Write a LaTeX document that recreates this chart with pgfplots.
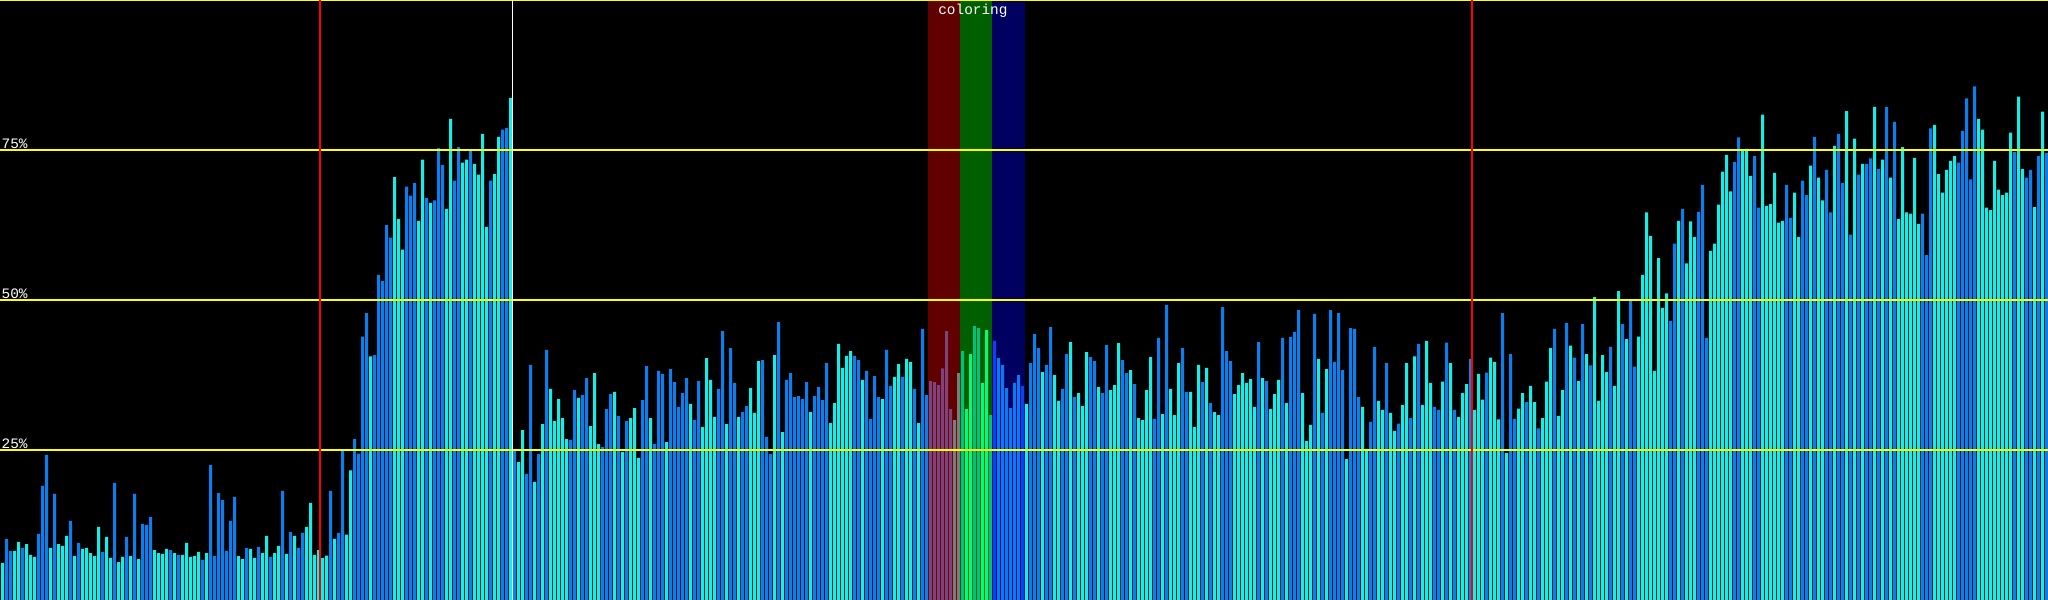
\documentclass[border=0pt]{standalone}
\usepackage{fontspec}
\usepackage{pgfplots}
\usepackage{pgfplotstable}
\pgfplotsset{compat=1.18}
\newfontfamily\pixfont{Liberation Mono}

\definecolor{barB}{RGB}{8,128,240}
\definecolor{barC}{RGB}{16,240,232}
\definecolor{redB}{RGB}{128,66,122}
\definecolor{redC}{RGB}{128,122,120}
\definecolor{grnB}{RGB}{6,192,122}
\definecolor{grnC}{RGB}{8,248,122}
\definecolor{bluB}{RGB}{6,66,248}
\definecolor{bluC}{RGB}{8,122,248}
\definecolor{bandR}{RGB}{96,0,0}
\definecolor{bandG}{RGB}{0,96,0}
\definecolor{bandB}{RGB}{0,0,96}
\definecolor{gridY}{RGB}{255,255,0}

\pgfplotsset{
  bars/.style 2 args={ybar, bar width=0.75, bar shift=0pt, draw=none, fill=#1,
    y filter/.expression={\thisrow{k}==#2 ? y : nan}}
}

% i = bar index, y = percent, k = colour class
% 0 blue, 1 cyan, 2/3 under red band, 4/5 under green band, 6/7 under blue band
\pgfplotstableread[row sep=\\]{
i y k\\
0 6.2 1\\ 1 10.2 0\\ 2 8.2 0\\ 3 8.2 1\\ 4 9.7 1\\ 5 8.7 0\\ 6 9.3 1\\ 7 7.5 1\\
8 7.2 1\\ 9 11.0 0\\ 10 19.0 0\\ 11 24.2 0\\ 12 8.7 1\\ 13 17.7 0\\ 14 9.3 1\\ 15 9.0 1\\
16 10.7 1\\ 17 13.2 0\\ 18 7.3 1\\ 19 9.5 0\\ 20 8.5 1\\ 21 8.7 1\\ 22 7.8 1\\ 23 7.3 1\\
24 12.2 1\\ 25 8.0 0\\ 26 10.5 1\\ 27 7.0 1\\ 28 19.5 0\\ 29 6.3 1\\ 30 7.2 1\\ 31 10.5 0\\
32 7.3 1\\ 33 17.7 0\\ 34 6.8 1\\ 35 12.7 0\\ 36 12.5 0\\ 37 13.8 0\\ 38 8.3 1\\ 39 7.8 1\\
40 7.7 1\\ 41 8.5 1\\ 42 8.3 0\\ 43 7.8 1\\ 44 7.5 0\\ 45 7.5 1\\ 46 9.5 1\\ 47 7.2 1\\
48 7.3 1\\ 49 8.0 1\\ 50 6.7 0\\ 51 7.8 1\\ 52 22.5 0\\ 53 7.3 0\\ 54 17.8 0\\ 55 16.7 0\\
56 8.2 0\\ 57 13.2 0\\ 58 17.2 0\\ 59 7.3 1\\ 60 6.8 1\\ 61 8.7 0\\ 62 8.5 1\\ 63 7.0 1\\
64 8.8 0\\ 65 7.8 1\\ 66 10.7 1\\ 67 7.2 0\\ 68 7.8 1\\ 69 9.0 1\\ 70 18.2 0\\ 71 7.7 1\\
72 11.3 0\\ 73 10.7 1\\ 74 8.7 0\\ 75 11.2 0\\ 76 12.2 1\\ 77 16.2 1\\ 78 7.5 1\\ 79 8.3 1\\
80 7.0 1\\ 81 7.4 1\\ 82 18.2 0\\ 83 10.2 1\\ 84 11.2 0\\ 85 24.9 0\\ 86 10.9 1\\ 87 21.6 1\\
88 26.8 0\\ 89 24.4 0\\ 90 43.9 0\\ 91 47.8 0\\ 92 40.6 1\\ 93 40.8 0\\ 94 54.2 0\\ 95 53.2 0\\
96 62.5 0\\ 97 60.4 0\\ 98 70.5 1\\ 99 63.5 1\\ 100 58.4 1\\ 101 68.9 0\\ 102 67.4 0\\ 103 69.5 0\\
104 63.2 1\\ 105 73.4 1\\ 106 67.0 0\\ 107 66.2 1\\ 108 66.6 0\\ 109 75.3 0\\ 110 72.5 0\\ 111 65.2 1\\
112 80.2 1\\ 113 69.9 0\\ 114 75.5 0\\ 115 72.9 1\\ 116 73.4 1\\ 117 74.9 0\\ 118 72.7 1\\ 119 70.9 1\\
120 77.7 1\\ 121 62.2 1\\ 122 69.9 0\\ 123 71.0 1\\ 124 77.2 1\\ 125 78.4 0\\ 126 78.7 0\\ 127 83.7 1\\
128 24.8 0\\ 129 23.0 1\\ 130 28.3 1\\ 131 21.0 0\\ 132 39.2 0\\ 133 19.7 1\\ 134 24.3 0\\ 135 29.3 1\\
136 41.7 0\\ 137 35.2 1\\ 138 29.8 1\\ 139 33.5 1\\ 140 30.3 1\\ 141 26.8 1\\ 142 26.7 0\\ 143 35.0 0\\
144 33.7 1\\ 145 34.2 0\\ 146 37.0 0\\ 147 29.0 1\\ 148 37.8 1\\ 149 26.0 1\\ 150 25.5 0\\ 151 31.8 0\\
152 34.3 0\\ 153 34.7 1\\ 154 30.7 0\\ 155 24.7 1\\ 156 29.8 0\\ 157 30.3 1\\ 158 32.0 1\\ 159 23.7 1\\
160 33.3 0\\ 161 39.0 0\\ 162 30.3 1\\ 163 26.0 0\\ 164 38.2 0\\ 165 37.7 0\\ 166 26.3 1\\ 167 38.5 0\\
168 36.3 0\\ 169 32.2 0\\ 170 34.5 0\\ 171 37.0 0\\ 172 32.7 1\\ 173 30.0 0\\ 174 36.5 0\\ 175 28.8 1\\
176 40.3 1\\ 177 36.7 1\\ 178 30.5 1\\ 179 35.2 0\\ 180 44.8 0\\ 181 29.3 1\\ 182 42.0 0\\ 183 36.2 0\\
184 30.5 1\\ 185 31.3 0\\ 186 32.3 0\\ 187 35.3 1\\ 188 31.2 1\\ 189 39.8 1\\ 190 40.0 0\\ 191 27.2 0\\
192 24.3 0\\ 193 40.8 1\\ 194 46.3 0\\ 195 28.0 1\\ 196 36.7 0\\ 197 37.8 0\\ 198 33.8 0\\ 199 34.0 0\\
200 33.5 0\\ 201 36.3 0\\ 202 31.3 1\\ 203 34.0 0\\ 204 35.5 0\\ 205 33.3 0\\ 206 39.5 0\\ 207 29.5 1\\
208 32.8 1\\ 209 42.7 1\\ 210 38.7 1\\ 211 40.7 1\\ 212 41.5 1\\ 213 40.7 0\\ 214 40.0 0\\ 215 36.7 1\\
216 38.2 0\\ 217 30.2 0\\ 218 37.3 0\\ 219 33.8 0\\ 220 33.5 1\\ 221 41.7 0\\ 222 35.7 0\\ 223 37.2 1\\
224 39.3 1\\ 225 37.2 0\\ 226 40.2 1\\ 227 39.7 1\\ 228 35.2 0\\ 229 29.5 1\\ 230 45.2 0\\ 231 34.2 0\\
232 36.5 2\\ 233 36.3 2\\ 234 35.8 2\\ 235 38.6 2\\ 236 44.8 2\\ 237 31.8 2\\ 238 30.0 3\\ 239 37.8 3\\
240 41.5 4\\ 241 31.8 5\\ 242 41.0 5\\ 243 45.7 4\\ 244 45.3 4\\ 245 36.2 5\\ 246 45.0 5\\ 247 30.8 4\\
248 43.2 6\\ 249 40.3 7\\ 250 39.2 7\\ 251 35.3 7\\ 252 32.0 7\\ 253 36.2 7\\ 254 37.5 7\\ 255 35.7 6\\
256 32.7 1\\ 257 39.5 0\\ 258 44.3 0\\ 259 42.0 0\\ 260 38.0 1\\ 261 39.2 0\\ 262 45.5 0\\ 263 37.5 1\\
264 33.2 1\\ 265 35.2 0\\ 266 41.0 0\\ 267 43.0 1\\ 268 33.8 0\\ 269 34.5 1\\ 270 32.3 1\\ 271 41.3 1\\
272 40.5 0\\ 273 39.8 0\\ 274 35.5 1\\ 275 34.5 0\\ 276 42.5 0\\ 277 35.0 1\\ 278 35.8 1\\ 279 42.8 1\\
280 40.0 0\\ 281 37.8 0\\ 282 38.3 1\\ 283 36.0 0\\ 284 30.3 1\\ 285 30.0 1\\ 286 35.0 1\\ 287 40.5 1\\
288 30.2 0\\ 289 43.7 0\\ 290 31.0 1\\ 291 49.2 0\\ 292 35.2 1\\ 293 30.8 1\\ 294 39.5 1\\ 295 42.0 0\\
296 34.7 0\\ 297 34.7 1\\ 298 28.8 1\\ 299 39.2 1\\ 300 36.3 0\\ 301 38.7 1\\ 302 32.8 0\\ 303 31.3 1\\
304 30.8 1\\ 305 48.8 0\\ 306 41.5 0\\ 307 39.8 0\\ 308 34.3 1\\ 309 35.8 1\\ 310 37.8 1\\ 311 36.2 1\\
312 36.8 1\\ 313 32.2 1\\ 314 43.0 0\\ 315 37.0 1\\ 316 36.5 0\\ 317 31.8 1\\ 318 34.3 1\\ 319 36.7 1\\
320 43.7 0\\ 321 32.8 1\\ 322 43.8 0\\ 323 44.7 0\\ 324 48.3 0\\ 325 34.5 1\\ 326 26.5 1\\ 327 29.2 1\\
328 47.7 0\\ 329 40.2 1\\ 330 31.2 0\\ 331 38.5 1\\ 332 48.3 0\\ 333 39.7 0\\ 334 47.8 0\\ 335 38.3 0\\
336 23.5 1\\ 337 45.3 0\\ 338 45.2 0\\ 339 33.8 0\\ 340 32.2 1\\ 341 25.2 1\\ 342 29.7 0\\ 343 42.2 0\\
344 33.2 1\\ 345 31.7 1\\ 346 39.5 0\\ 347 31.2 1\\ 348 28.2 1\\ 349 29.4 0\\ 350 32.5 1\\ 351 39.5 1\\
352 30.3 0\\ 353 40.6 1\\ 354 42.7 0\\ 355 32.5 1\\ 356 43.2 1\\ 357 36.2 1\\ 358 32.2 0\\ 359 31.7 0\\
360 36.4 1\\ 361 42.9 0\\ 362 39.5 1\\ 363 31.7 0\\ 364 30.5 1\\ 365 34.5 1\\ 366 36.0 1\\ 367 40.2 0\\
368 31.7 1\\ 369 37.7 1\\ 370 33.4 1\\ 371 37.9 0\\ 372 40.4 1\\ 373 39.7 1\\ 374 30.1 1\\ 375 47.8 0\\
376 24.5 1\\ 377 41.0 0\\ 378 30.2 0\\ 379 31.9 1\\ 380 34.5 1\\ 381 33.0 0\\ 382 35.7 1\\ 383 33.0 1\\
384 28.6 0\\ 385 30.3 1\\ 386 36.4 1\\ 387 42.0 1\\ 388 45.2 0\\ 389 30.7 1\\ 390 35.0 1\\ 391 46.2 0\\
392 42.4 1\\ 393 40.4 0\\ 394 36.5 1\\ 395 46.0 0\\ 396 41.0 1\\ 397 39.1 0\\ 398 50.5 1\\ 399 33.2 1\\
400 40.8 1\\ 401 38.0 1\\ 402 42.2 0\\ 403 35.7 1\\ 404 51.5 1\\ 405 46.0 0\\ 406 43.5 1\\ 407 49.9 0\\
408 38.9 0\\ 409 43.9 1\\ 410 54.2 1\\ 411 64.6 1\\ 412 60.7 1\\ 413 38.2 1\\ 414 57.0 1\\ 415 48.7 1\\
416 51.1 1\\ 417 46.5 0\\ 418 59.4 0\\ 419 63.2 1\\ 420 65.2 0\\ 421 56.1 1\\ 422 63.1 1\\ 423 60.5 1\\
424 64.7 0\\ 425 69.2 0\\ 426 43.7 0\\ 427 58.2 1\\ 428 59.4 1\\ 429 65.9 1\\ 430 71.4 1\\ 431 74.2 1\\
432 68.1 1\\ 433 73.0 0\\ 434 77.1 0\\ 435 74.9 1\\ 436 75.2 1\\ 437 70.7 1\\ 438 74.0 0\\ 439 65.4 0\\
440 80.9 1\\ 441 65.7 1\\ 442 66.0 1\\ 443 71.2 1\\ 444 62.9 1\\ 445 63.2 1\\ 446 69.2 0\\ 447 63.7 0\\
448 67.9 1\\ 449 60.5 1\\ 450 69.9 0\\ 451 67.5 0\\ 452 72.4 1\\ 453 77.2 0\\ 454 70.4 1\\ 455 66.6 1\\
456 71.7 0\\ 457 64.6 0\\ 458 75.7 1\\ 459 77.7 0\\ 460 69.5 0\\ 461 81.5 1\\ 462 60.9 0\\ 463 76.9 1\\
464 70.9 0\\ 465 72.7 1\\ 466 72.7 0\\ 467 73.6 0\\ 468 82.2 1\\ 469 71.8 0\\ 470 73.4 1\\ 471 82.2 0\\
472 70.4 1\\ 473 79.7 0\\ 474 63.5 1\\ 475 75.5 1\\ 476 64.6 1\\ 477 64.4 1\\ 478 73.7 1\\ 479 62.7 1\\
480 64.4 0\\ 481 57.5 0\\ 482 78.6 0\\ 483 79.2 1\\ 484 71.0 1\\ 485 67.9 1\\ 486 71.7 1\\ 487 73.2 1\\
488 74.0 1\\ 489 72.9 0\\ 490 78.2 0\\ 491 83.6 0\\ 492 70.1 0\\ 493 85.6 0\\ 494 80.2 1\\ 495 78.4 1\\
496 65.4 1\\ 497 65.0 1\\ 498 73.2 1\\ 499 68.4 1\\ 500 67.5 1\\ 501 67.9 1\\ 502 77.9 1\\ 503 74.7 0\\
504 83.9 1\\ 505 71.8 1\\ 506 70.4 0\\ 507 71.7 0\\ 508 65.5 1\\ 509 74.0 0\\ 510 81.4 1\\ 511 74.5 0\\
}\data

\begin{document}
\begin{tikzpicture}
\fill[black] (0,0) rectangle (204.8mm,60mm);
\begin{axis}[
    at={(0,0)}, anchor=south west,
    scale only axis,
    width=204.8mm, height=60mm,
    xmin=-0.625, xmax=511.375,
    ymin=0, ymax=100,
    axis lines=none, ticks=none,
    clip=true
]
% coloured bands behind the bars
\addplot[fill=bandR, draw=none] coordinates {(231.375,0) (231.375,100) (239.375,100) (239.375,0)};
\addplot[fill=bandG, draw=none] coordinates {(239.375,0) (239.375,100) (247.375,100) (247.375,0)};
\addplot[fill=bandB, draw=none] coordinates {(247.375,0) (247.375,100) (255.5,100) (255.5,0)};

% bars, one plot per colour class
\addplot[bars={barB}{0}] table[x=i, y=y] {\data};
\addplot[bars={barC}{1}] table[x=i, y=y] {\data};
\addplot[bars={redB}{2}] table[x=i, y=y] {\data};
\addplot[bars={redC}{3}] table[x=i, y=y] {\data};
\addplot[bars={grnB}{4}] table[x=i, y=y] {\data};
\addplot[bars={grnC}{5}] table[x=i, y=y] {\data};
\addplot[bars={bluB}{6}] table[x=i, y=y] {\data};
\addplot[bars={bluC}{7}] table[x=i, y=y] {\data};

% horizontal guide lines
\addplot[gridY, line width=0.13mm] coordinates {(-1,25) (512,25)};
\addplot[gridY, line width=0.13mm] coordinates {(-1,50) (512,50)};
\addplot[gridY, line width=0.13mm] coordinates {(-1,75) (512,75)};
\addplot[gridY, line width=0.14mm] coordinates {(-1,99.9) (512,99.9)};

% vertical markers
\addplot[red, line width=0.2mm] coordinates {(79.3,0) (79.3,100)};
\addplot[red, line width=0.2mm] coordinates {(367.4,0) (367.4,100)};
\addplot[white, line width=0.13mm] coordinates {(127.43,0) (127.43,100)};

\node[anchor=base west, inner sep=0pt, text=white, font=\pixfont\fontsize{4.1}{5}\selectfont] at (axis cs:-0.375,25.2) {25\%};
\node[anchor=base west, inner sep=0pt, text=white, font=\pixfont\fontsize{4.1}{5}\selectfont] at (axis cs:-0.375,50.2) {50\%};
\node[anchor=base west, inner sep=0pt, text=white, font=\pixfont\fontsize{4.1}{5}\selectfont] at (axis cs:-0.375,75.2) {75\%};
\node[anchor=base, inner sep=0pt, text=white, font=\pixfont\fontsize{4.1}{5}\selectfont] at (axis cs:242.6,97.5) {coloring};
\end{axis}
\pgfresetboundingbox
\path (0,0) rectangle (204.8mm,60mm);
\end{tikzpicture}
\end{document}
